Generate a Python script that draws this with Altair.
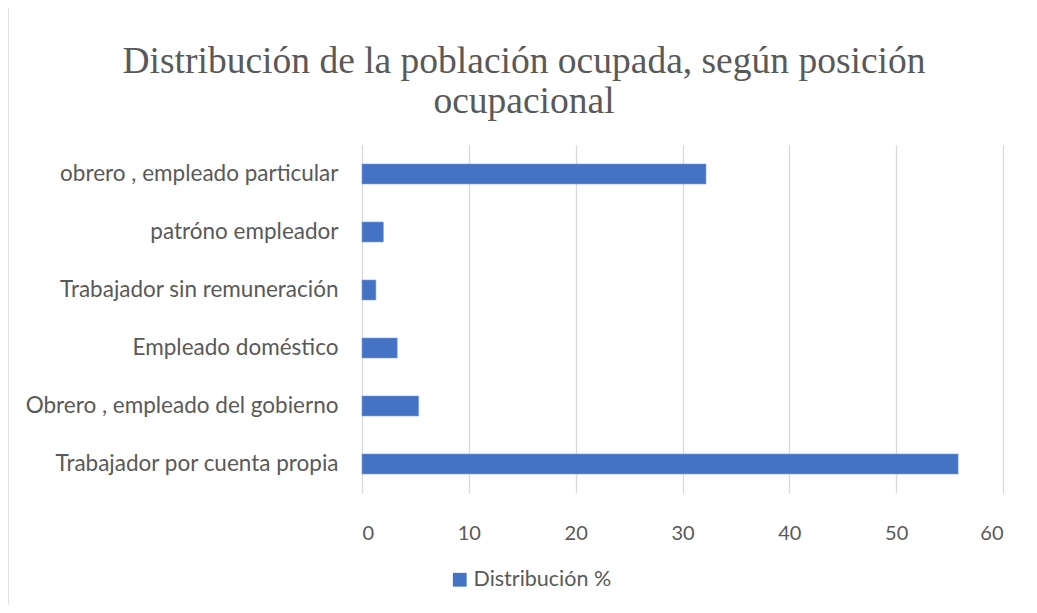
import altair as alt
import pandas as pd

categories = [
    "obrero , empleado particular",
    "patróno empleador",
    "Trabajador sin remuneración",
    "Empleado doméstico",
    "Obrero , empleado del gobierno",
    "Trabajador por cuenta propia",
]
values = [32.2, 2.0, 1.3, 3.3, 5.3, 55.8]
series_name = "Distribución %"
title_lines = ["Distribución de la población ocupada, según posición", "ocupacional"]

df = pd.DataFrame({"cat": categories, "val": values, "serie": [series_name] * len(values)})

bars = alt.Chart(df).mark_bar(color="#4472C4", stroke="#7f9fd8", strokeWidth=0.6).encode(
    x=alt.X("val:Q",
            scale=alt.Scale(domain=[0, 60], nice=False),
            axis=alt.Axis(values=[0, 10, 20, 30, 40, 50, 60], title=None, domain=False, ticks=False,
                          grid=True, gridColor="#d9d9d9", gridWidth=1.3,
                          labelFont="Lato", labelFontSize=20, labelColor="#595959",
                          labelPadding=30)),
    y=alt.Y("cat:N", sort=categories,
            scale=alt.Scale(paddingInner=0.655, paddingOuter=0.3275),
            axis=alt.Axis(title=None, domain=False, ticks=False, grid=False,
                          labelFont="Lato", labelFontSize=22.5, labelColor="#595959",
                          labelPadding=24, labelLimit=400)),
    fill=alt.Fill("serie:N", scale=alt.Scale(range=["#4472C4"]),
                  legend=alt.Legend(title=None, orient="none", legendX=87, legendY=424,
                                    symbolType="square", symbolSize=190, symbolStrokeWidth=0,
                                    labelFont="Lato", labelFontSize=21.5, labelColor="#595959",
                                    labelOffset=3)),
)

border = alt.Chart(pd.DataFrame({"a": [0]})).mark_rect(
    fill=None, stroke="#d9d9d9", strokeWidth=1.5
).encode(
    x=alt.value(-354), x2=alt.value(680), y=alt.value(-140), y2=alt.value(520)
)

title1 = alt.Chart(pd.DataFrame({"t": [title_lines[0]]})).mark_text(
    font="Liberation Serif", fontSize=37.5, color="#595959", align="center", baseline="alphabetic"
).encode(text="t:N", x=alt.value(162), y=alt.value(-72))

title2 = alt.Chart(pd.DataFrame({"t": [title_lines[1]]})).mark_text(
    font="Liberation Serif", fontSize=37.5, color="#595959", align="center", baseline="alphabetic"
).encode(text="t:N", x=alt.value(162), y=alt.value(-32))

chart = alt.layer(border, bars, title1, title2).properties(
    width=641, height=348,
    padding={"left": 354, "top": 137, "right": 26, "bottom": 112},
    autosize=alt.AutoSizeParams(type="none"),
    background="white",
).configure_view(stroke=None, strokeWidth=0)

chart.save("out.html", embed_options={"renderer": "svg", "actions": False})
